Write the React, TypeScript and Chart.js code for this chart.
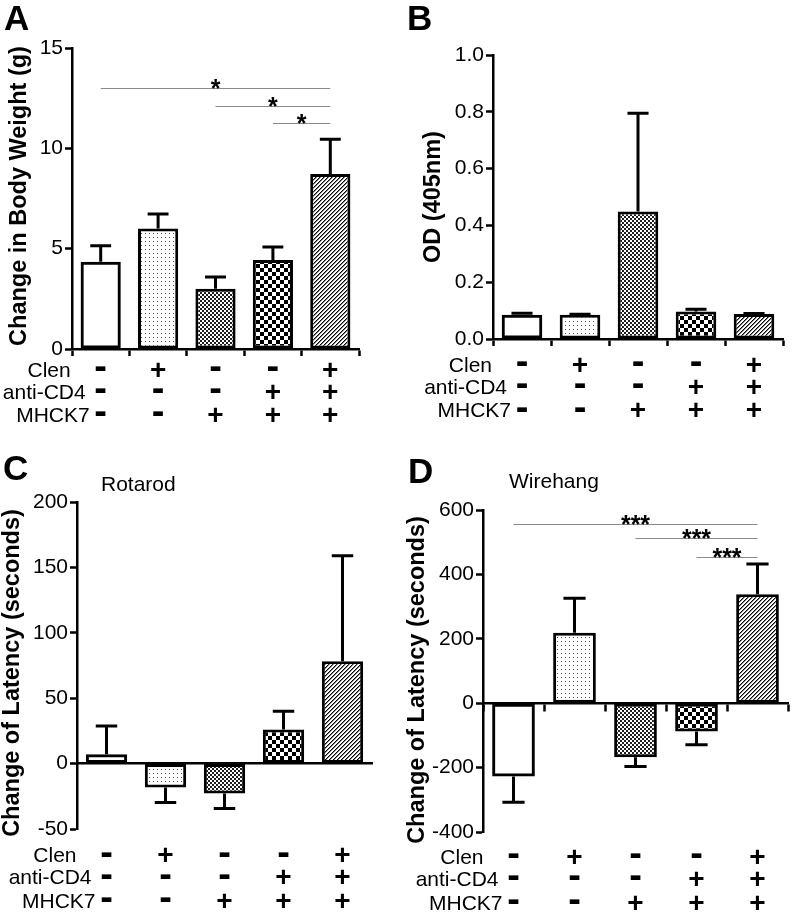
import React, { useEffect, useRef } from 'react';
import { Chart, registerables } from 'chart.js';

Chart.register(...registerables);

const FONT = "'Liberation Sans', Arial, Helvetica, sans-serif";

// ---------- data ----------
const groups = ['Control', 'Clen', 'MHCK7', 'anti-CD4 + MHCK7', 'Clen + anti-CD4 + MHCK7'];
const tableRowLabels = ['Clen', 'anti-CD4', 'MHCK7'];
const clenRow = ['-', '+', '-', '-', '+'];
const antiCD4Row = ['-', '-', '-', '+', '+'];
const mhck7Row = ['-', '-', '+', '+', '+'];

const weightMean = [4.35, 6.0, 3.0, 4.43, 8.72];
const weightSem = [0.8, 0.73, 0.59, 0.65, 1.73];
const weightTicks = [0, 5, 10, 15];
const weightSigFrom = [0, 2, 3];
const weightSigTo = [4, 4, 4];
const weightSigY = [13.0, 12.12, 11.25];
const weightSigText = ['*', '*', '*'];

const odMean = [0.085, 0.085, 0.449, 0.097, 0.088];
const odSem = [0.006, 0.002, 0.346, 0.008, 0.002];
const odTicks = [0, 0.2, 0.4, 0.6, 0.8, 1.0];

const rotarodMean = [7.1, -18.3, -22.8, 26.1, 78.2];
const rotarodSem = [21.6, 11.4, 11.5, 14.0, 80.7];
const rotarodTicks = [-50, 0, 50, 100, 150, 200];

const wirehangMean = [-227.5, 219, -167.5, -88, 338];
const wirehangSem = [80, 107, 29, 41, 94];
const wirehangTicks = [-400, -200, 0, 200, 400, 600];
const wirehangSigFrom = [0, 2, 3];
const wirehangSigTo = [4, 4, 4];
const wirehangSigY = [555, 512, 455];
const wirehangSigText = ['***', '***', '***'];

const fillKinds = ['none', 'dots', 'checkFine', 'checkLarge', 'hatch'];

// ---------- layout ----------
type PanelCfg = {
  letter: string; x: number; y: number; w: number; h: number;
  area: { l: number; r: number; t: number; b: number };
  mean: number[]; sem: number[]; ticks: number[]; decimals: number;
  yTitle: string; yTitlePos: [number, number];
  letterPos: [number, number];
  title?: string; titlePos?: [number, number];
  zeroAxis: boolean; xTickMarks: boolean;
  sigFrom?: number[]; sigTo?: number[]; sigY?: number[]; sigText?: string[];
  rowOffsets: number[];
};

const panels: PanelCfg[] = [
  {
    letter: 'A', x: 0, y: 0, w: 396, h: 430,
    area: { l: 72, r: 359, t: 48, b: 349 },
    mean: weightMean, sem: weightSem, ticks: weightTicks, decimals: 0,
    yTitle: 'Change in Body Weight (g)', yTitlePos: [20, 196],
    letterPos: [4, 30], zeroAxis: false, xTickMarks: true,
    sigFrom: weightSigFrom, sigTo: weightSigTo, sigY: weightSigY, sigText: weightSigText,
    rowOffsets: [20, 42, 65],
  },
  {
    letter: 'B', x: 396, y: 0, w: 396, h: 430,
    area: { l: 97, r: 387, t: 55, b: 339 },
    mean: odMean, sem: odSem, ticks: odTicks, decimals: 1,
    yTitle: 'OD (405nm)', yTitlePos: [38, 197],
    letterPos: [11, 30], zeroAxis: false, xTickMarks: true,
    rowOffsets: [25, 47, 70.5],
  },
  {
    letter: 'C', x: 0, y: 420, w: 396, h: 495,
    area: { l: 77, r: 372, t: 82, b: 409 },
    mean: rotarodMean, sem: rotarodSem, ticks: rotarodTicks, decimals: 0,
    yTitle: 'Change of Latency (seconds)', yTitlePos: [12.5, 253],
    letterPos: [3, 60], title: 'Rotarod', titlePos: [101, 70.5],
    zeroAxis: true, xTickMarks: false,
    rowOffsets: [25.5, 47.5, 71],
  },
  {
    letter: 'D', x: 396, y: 420, w: 396, h: 495,
    area: { l: 87, r: 392, t: 90, b: 412 },
    mean: wirehangMean, sem: wirehangSem, ticks: wirehangTicks, decimals: 0,
    yTitle: 'Change of Latency (seconds)', yTitlePos: [21.5, 260],
    letterPos: [12, 63], title: 'Wirehang', titlePos: [113, 67.5],
    zeroAxis: true, xTickMarks: true,
    sigFrom: wirehangSigFrom, sigTo: wirehangSigTo, sigY: wirehangSigY, sigText: wirehangSigText,
    rowOffsets: [24, 46, 70],
  },
];

// label right-edge offsets relative to first column center
const rowLabelShift = [-30, -15, -11];

function makeFill(kind: string): any {
  if (kind === 'none') return 'rgba(0,0,0,0)';
  const n = kind === 'checkLarge' ? 8 : 4;
  const c = document.createElement('canvas');
  c.width = n; c.height = n;
  const g = c.getContext('2d')!;
  const img = g.createImageData(n, n);
  for (let y = 0; y < n; y++) {
    for (let x = 0; x < n; x++) {
      let v = 255;
      if (kind === 'dots') v = (x % 4 === 1 && y % 4 === 1) ? 80 : 255;
      else if (kind === 'checkFine') v = (((x >> 1) + (y >> 1)) % 2 === 0) ? 30 : 255;
      else if (kind === 'checkLarge') v = (((x >> 2) + (y >> 2)) % 2 === 0) ? 0 : 255;
      else if (kind === 'hatch') { const k = (x + y) % 4; v = k === 0 ? 0 : k === 1 ? 130 : 255; }
      const i = (y * n + x) * 4;
      img.data[i] = v; img.data[i + 1] = v; img.data[i + 2] = v; img.data[i + 3] = 255;
    }
  }
  g.putImageData(img, 0, 0);
  return g.createPattern(c, 'repeat');
}

function decorPlugin(cfg: PanelCfg) {
  return {
    id: 'decor' + cfg.letter,
    afterDatasetsDraw(chart: any) {
      const ctx = chart.ctx;
      const ys = chart.scales.y;
      const meta = chart.getDatasetMeta(0);
      ctx.save();
      ctx.strokeStyle = '#000';
      ctx.lineWidth = 3;
      ctx.lineCap = 'butt';
      cfg.mean.forEach((m, i) => {
        const bar = meta.data[i];
        const x = bar.x;
        const dir = m >= 0 ? 1 : -1;
        const y0 = ys.getPixelForValue(m);
        const y1 = ys.getPixelForValue(m + dir * cfg.sem[i]);
        const half = bar.width * 0.26;
        ctx.beginPath();
        ctx.moveTo(x, y0);
        ctx.lineTo(x, y1);
        ctx.moveTo(x - half, y1);
        ctx.lineTo(x + half, y1);
        ctx.stroke();
      });
      ctx.restore();
    },
    afterDraw(chart: any) {
      const ctx = chart.ctx;
      const xs = chart.scales.x;
      const ys = chart.scales.y;
      const area = chart.chartArea;
      ctx.save();
      ctx.fillStyle = '#000';

      // significance bars
      if (cfg.sigFrom) {
        cfg.sigFrom.forEach((f, k) => {
          const x1 = xs.getPixelForValue(f);
          const x2 = xs.getPixelForValue(cfg.sigTo![k]);
          const y = Math.round(ys.getPixelForValue(cfg.sigY![k])) + 0.5;
          ctx.strokeStyle = '#8a8a8a';
          ctx.lineWidth = 1;
          ctx.beginPath();
          ctx.moveTo(x1, y);
          ctx.lineTo(x2, y);
          ctx.stroke();
          ctx.font = `bold 25px ${FONT}`;
          ctx.textAlign = 'center';
          ctx.textBaseline = 'alphabetic';
          ctx.fillText(cfg.sigText![k], (x1 + x2) / 2, y + 8);
        });
      }

      // panel letter
      ctx.font = `bold 35px ${FONT}`;
      ctx.textAlign = 'left';
      ctx.textBaseline = 'alphabetic';
      ctx.fillText(cfg.letter, cfg.letterPos[0], cfg.letterPos[1]);

      // panel title
      if (cfg.title && cfg.titlePos) {
        ctx.font = `21px ${FONT}`;
        ctx.fillText(cfg.title, cfg.titlePos[0], cfg.titlePos[1]);
      }

      // y-axis title
      ctx.save();
      ctx.translate(cfg.yTitlePos[0], cfg.yTitlePos[1]);
      ctx.rotate(-Math.PI / 2);
      ctx.font = `bold 23.5px ${FONT}`;
      ctx.textAlign = 'center';
      ctx.textBaseline = 'middle';
      ctx.fillText(cfg.yTitle, 0, 0);
      ctx.restore();

      // treatment table
      const rows = [clenRow, antiCD4Row, mhck7Row];
      const col0 = xs.getPixelForValue(0);
      rows.forEach((row, r) => {
        const cy = area.bottom + cfg.rowOffsets[r];
        ctx.font = `21px ${FONT}`;
        ctx.textAlign = 'right';
        ctx.textBaseline = 'alphabetic';
        ctx.fillText(tableRowLabels[r], col0 + rowLabelShift[r], cy + 7.5);
        row.forEach((s, i) => {
          const x = xs.getPixelForValue(i);
          ctx.textAlign = 'center';
          if (s === '+') {
            ctx.font = `900 28px ${FONT}`;
            ctx.fillText('+', x, cy + 9.6);
          } else {
            ctx.font = `900 38px ${FONT}`;
            ctx.fillText('-', x, cy + 10.2);
          }
        });
      });
      ctx.restore();
    },
  };
}

function Panel({ cfg }: { cfg: PanelCfg }) {
  const ref = useRef<HTMLCanvasElement>(null);
  useEffect(() => {
    const canvas = ref.current!;
    const fills = fillKinds.map(makeFill);
    const tickVals = cfg.ticks;
    const chart = new Chart(canvas, {
      type: 'bar',
      data: {
        labels: groups,
        datasets: [{
          data: cfg.mean,
          backgroundColor: fills,
          borderColor: '#000',
          borderWidth: 3,
          borderSkipped: false,
          barPercentage: 0.7,
          categoryPercentage: 1,
        } as any],
      },
      options: {
        responsive: false,
        maintainAspectRatio: false,
        animation: false,
        events: [],
        devicePixelRatio: 1,
        layout: {
          padding: {
            left: 0,
            top: cfg.area.t,
            right: cfg.w - cfg.area.r,
            bottom: cfg.h - cfg.area.b,
          },
        },
        plugins: {
          legend: { display: false },
          tooltip: { enabled: false },
          title: { display: false },
        },
        scales: {
          x: {
            type: 'category',
            position: cfg.zeroAxis ? ({ y: 0 } as any) : 'bottom',
            offset: true,
            grid: {
              display: true,
              drawOnChartArea: false,
              drawTicks: cfg.xTickMarks,
              tickLength: 7,
              tickWidth: 2.5,
              tickColor: '#000',
              color: '#000',
            },
            border: { display: true, color: '#000', width: 2.5 },
            ticks: { display: false },
            afterFit: (s: any) => { s.height = 0; },
          },
          y: {
            type: 'linear',
            min: tickVals[0],
            max: tickVals[tickVals.length - 1],
            afterBuildTicks: (s: any) => { s.ticks = tickVals.map((v) => ({ value: v })); },
            afterFit: (s: any) => { s.width = cfg.area.l; },
            ticks: {
              color: '#000',
              padding: 2,
              font: { family: FONT, size: 21 },
              callback: (v: any) => Number(v).toFixed(cfg.decimals),
            },
            grid: {
              display: true,
              drawOnChartArea: false,
              drawTicks: true,
              tickLength: 7,
              tickWidth: 2.5,
              tickColor: '#000',
              color: '#000',
            },
            border: { display: true, color: '#000', width: 2.5 },
          },
        },
      } as any,
      plugins: [decorPlugin(cfg)],
    });
    return () => chart.destroy();
  }, []);
  return (
    <canvas
      ref={ref}
      width={cfg.w}
      height={cfg.h}
      style={{ position: 'absolute', left: cfg.x, top: cfg.y, width: cfg.w, height: cfg.h }}
    />
  );
}

export default function App() {
  useEffect(() => {
    document.body.style.margin = '0';
    document.body.style.background = '#fff';
  }, []);
  return (
    <div style={{ position: 'relative', width: 792, height: 915, background: '#fff', overflow: 'hidden' }}>
      {panels.map((p) => <Panel key={p.letter} cfg={p} />)}
    </div>
  );
}
